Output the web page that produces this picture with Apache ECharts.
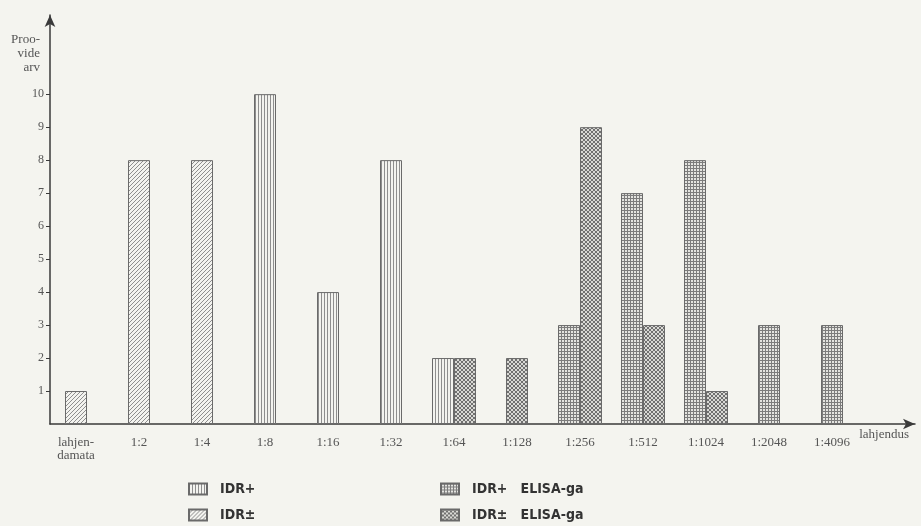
<!DOCTYPE html>
<html>
<head>
<meta charset="utf-8">
<script src="https://cdn.jsdelivr.net/npm/echarts@6/dist/echarts.min.js"></script>
<style>
  html, body { margin: 0; padding: 0; background: #f4f4ef; }
  #chart { width: 921px; height: 526px; }
</style>
</head>
<body>
<div id="chart"></div>
<script>
// lahjendused (x kategooriad)
const categories = ['lahjen-\ndamata', '1:2', '1:4', '1:8', '1:16', '1:32', '1:64', '1:128', '1:256', '1:512', '1:1024', '1:2048', '1:4096'];
// proovide arv
const idrPlus      = [null, null, null, 10, 4, 8, 2, null, null, null, null, null, null];
const idrPm        = [1, 8, 8, null, null, null, null, null, null, null, null, null, null];
const idrPlusElisa = [null, null, null, null, null, null, null, null, 3, 7, 8, 3, 3];
const idrPmElisa   = [null, null, null, null, null, null, 2, 2, 9, 3, 1, null, null];
const yTicks = [1, 2, 3, 4, 5, 6, 7, 8, 9, 10];
const yMax = 12.4;

const FONT = 'Liberation Serif';
const LEGEND_FONT = 'DejaVu Sans Condensed, DejaVu Sans, sans-serif';

// hatch patterns like the printed figure
function makePattern(size, bg, fg, draw) {
  const c = document.createElement('canvas');
  c.width = size;
  c.height = size;
  const ctx = c.getContext('2d');
  ctx.fillStyle = bg;
  ctx.fillRect(0, 0, size, size);
  ctx.strokeStyle = fg;
  ctx.lineWidth = 1;
  ctx.beginPath();
  draw(ctx, size);
  ctx.stroke();
  return { image: c, repeat: 'repeat' };
}

const vertLines = makePattern(3, '#f3f3ef', '#8e8e8e', (ctx, s) => {
  ctx.moveTo(0.5, 0); ctx.lineTo(0.5, s);
});
const diagLines = makePattern(4, '#f3f3ef', '#8e8e8e', (ctx, s) => {
  ctx.moveTo(-1, 1); ctx.lineTo(1, -1);
  ctx.moveTo(0, s); ctx.lineTo(s, 0);
  ctx.moveTo(s - 1, s + 1); ctx.lineTo(s + 1, s - 1);
});
const gridLines = makePattern(3, '#e4e4e0', '#7c7c7c', (ctx, s) => {
  ctx.moveTo(0.5, 0); ctx.lineTo(0.5, s);
  ctx.moveTo(0, 0.5); ctx.lineTo(s, 0.5);
});
const crossLines = makePattern(4, '#d9d9d5', '#707070', (ctx, s) => {
  ctx.moveTo(-1, 1); ctx.lineTo(1, -1);
  ctx.moveTo(0, s); ctx.lineTo(s, 0);
  ctx.moveTo(s - 1, s + 1); ctx.lineTo(s + 1, s - 1);
  ctx.moveTo(-1, s - 1); ctx.lineTo(1, s + 1);
  ctx.moveTo(0, 0); ctx.lineTo(s, s);
  ctx.moveTo(s - 1, -1); ctx.lineTo(s + 1, 1);
});

const groups = [
  { name: 'IDR+', data: idrPlus, fill: vertLines, slot: 'L' },
  { name: 'IDR±', data: idrPm, fill: diagLines, slot: 'R' },
  { name: 'IDR+   ELISA-ga', data: idrPlusElisa, fill: gridLines, slot: 'L' },
  { name: 'IDR±   ELISA-ga', data: idrPmElisa, fill: crossLines, slot: 'R' },
];

// how many bars in each category: single bars are centred, pairs sit side by side
const counts = categories.map((_, i) => groups.filter((g) => g.data[i] != null).length);

const series = [];
groups.forEach((g) => {
  const base = {
    name: g.name,
    type: 'bar',
    barWidth: 22,
    yAxisIndex: 0,
    itemStyle: { color: g.fill, borderColor: '#6a6a6a', borderWidth: 1 },
    emphasis: { disabled: true },
    animation: false,
  };
  series.push(Object.assign({}, base, {
    xAxisIndex: 0,
    stack: 'single',
    data: g.data.map((v, i) => (counts[i] === 1 ? v : null)),
  }));
  series.push(Object.assign({}, base, {
    xAxisIndex: 1,
    stack: g.slot,
    barGap: 0,
    data: g.data.map((v, i) => (counts[i] === 2 ? v : null)),
  }));
});

const legendBase = {
  orient: 'vertical',
  top: 476,
  height: 50,
  icon: 'rect',
  itemWidth: 18,
  itemHeight: 11,
  itemGap: 10,
  selectedMode: false,
  textStyle: { fontFamily: LEGEND_FONT, fontSize: 14, fontWeight: 'bold', color: '#333', lineHeight: 16, padding: [0, 0, 0, 8] },
};

const chart = echarts.init(document.getElementById('chart'));

chart.setOption({
  backgroundColor: '#f4f4ef',
  animation: false,
  textStyle: { fontFamily: FONT },
  grid: [
    { left: 44.5, right: 57.5, top: 15, bottom: 102 },
    { left: 50, right: 6, top: 15, bottom: 102 },
  ],
  legend: [
    Object.assign({}, legendBase, { data: ['IDR+', 'IDR±'], left: 183 }),
    Object.assign({}, legendBase, { data: ['IDR+   ELISA-ga', 'IDR±   ELISA-ga'], left: 435 }),
  ],
  xAxis: [
    {
      type: 'category',
      gridIndex: 0,
      data: categories,
      axisLine: { show: false },
      axisTick: { show: false },
      axisLabel: { color: '#555', fontSize: 13, margin: 12, interval: 0, lineHeight: 13 },
    },
    {
      type: 'category',
      gridIndex: 0,
      data: categories,
      show: false,
    },
    {
      type: 'value',
      gridIndex: 1,
      min: 0,
      max: 1,
      name: 'lahjendus',
      nameLocation: 'end',
      nameGap: -6,
      nameTextStyle: { color: '#555', fontSize: 13, align: 'right', verticalAlign: 'top', padding: [4, 0, 0, 0] },
      axisLine: { show: true, lineStyle: { color: '#3a3a3a', width: 1.5 }, symbol: ['none', 'arrow'], symbolSize: [8, 12] },
      axisTick: { show: false },
      axisLabel: { show: false },
      splitLine: { show: false },
    },
  ],
  yAxis: [
    {
      type: 'value',
      gridIndex: 0,
      min: 0,
      max: yMax,
      show: false,
    },
    {
      type: 'value',
      gridIndex: 1,
      min: 0,
      max: yMax,
      name: 'Proo-\nvide\narv',
      nameLocation: 'end',
      nameGap: -18,
      nameTextStyle: { color: '#555', fontSize: 13, align: 'right', verticalAlign: 'top', lineHeight: 14, padding: [0, 10, 0, 0] },
      axisLine: { show: true, lineStyle: { color: '#3a3a3a', width: 1.5 }, symbol: ['none', 'arrow'], symbolSize: [8, 12] },
      axisTick: { show: true, length: 4, customValues: yTicks, lineStyle: { color: '#3a3a3a' } },
      axisLabel: { customValues: yTicks, color: '#555', fontSize: 12, margin: 6 },
      splitLine: { show: false },
    },
  ],
  series: series,
});
</script>
</body>
</html>
